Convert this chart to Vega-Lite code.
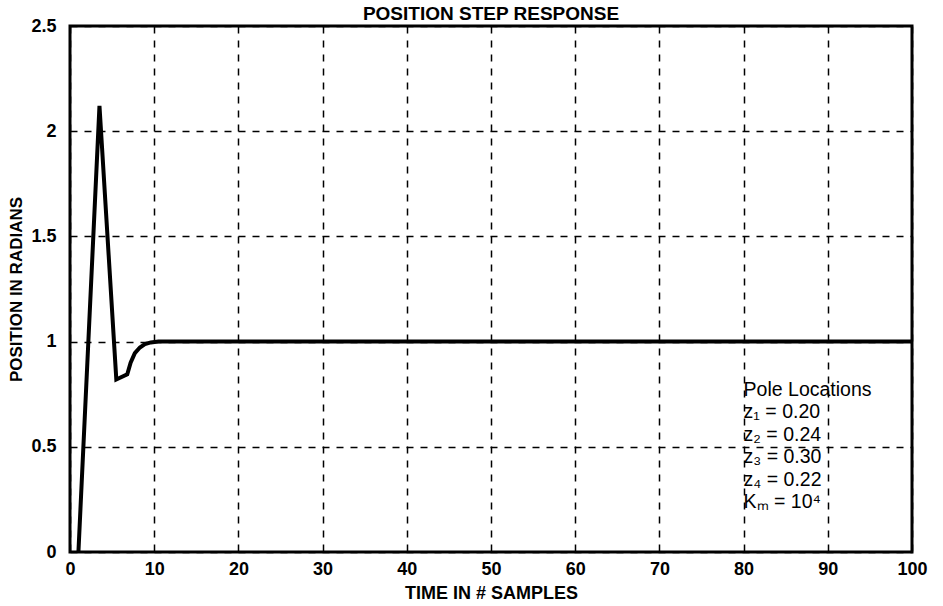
{
  "$schema": "https://vega.github.io/schema/vega-lite/v6.json",
  "width": 842,
  "height": 526,
  "autosize": "none",
  "padding": {"left": 70, "top": 26, "right": 31, "bottom": 54},
  "background": "white",
  "config": {
    "view": {"stroke": "black", "strokeWidth": 3},
    "font": "Liberation Sans"
  },
  "title": {
    "text": "POSITION STEP RESPONSE",
    "fontSize": 19,
    "fontWeight": "bold",
    "font": "Liberation Sans",
    "color": "black",
    "anchor": "middle",
    "offset": -7
  },
  "layer": [
    {
      "data": {
        "values": [
          {"t": 1.0, "pos": 0.0},
          {"t": 3.5, "pos": 2.12},
          {"t": 5.5, "pos": 0.82},
          {"t": 6.8, "pos": 0.845},
          {"t": 7.2, "pos": 0.9},
          {"t": 7.7, "pos": 0.945},
          {"t": 8.3, "pos": 0.972},
          {"t": 8.9, "pos": 0.988},
          {"t": 9.6, "pos": 0.996},
          {"t": 10.5, "pos": 1.0},
          {"t": 20, "pos": 1.0},
          {"t": 50, "pos": 1.0},
          {"t": 100, "pos": 1.0}
        ]
      },
      "mark": {"type": "line", "color": "black", "strokeWidth": 4, "strokeJoin": "miter", "clip": true},
      "encoding": {
        "x": {
          "field": "t",
          "type": "quantitative",
          "scale": {"domain": [0, 100], "nice": false},
          "axis": {
            "title": "TIME IN # SAMPLES",
            "values": [0, 10, 20, 30, 40, 50, 60, 70, 80, 90, 100],
            "grid": true,
            "gridColor": "black",
            "gridDash": [7, 7],
            "gridWidth": 1.5,
            "gridOpacity": 1,
            "ticks": false,
            "domain": false,
            "labelFont": "Liberation Sans",
            "labelFontWeight": "bold",
            "labelFontSize": 18,
            "labelColor": "black",
            "labelPadding": 8,
            "titleFont": "Liberation Sans",
            "titleFontWeight": "bold",
            "titleFontSize": 18,
            "titleColor": "black",
            "titlePadding": 6,
            "labelFlush": false
          }
        },
        "y": {
          "field": "pos",
          "type": "quantitative",
          "scale": {"domain": [0, 2.5], "nice": false},
          "axis": {
            "title": "POSITION IN RADIANS",
            "values": [0, 0.5, 1, 1.5, 2, 2.5],
            "format": "~g",
            "grid": true,
            "gridColor": "black",
            "gridDash": [7, 7],
            "gridWidth": 1.5,
            "gridOpacity": 1,
            "ticks": false,
            "domain": false,
            "labelFont": "Liberation Sans",
            "labelFontWeight": "bold",
            "labelFontSize": 18,
            "labelColor": "black",
            "labelPadding": 14,
            "titleFont": "Liberation Sans",
            "titleFontWeight": "bold",
            "titleFontSize": 17,
            "titleColor": "black",
            "titlePadding": 5,
            "labelFlush": false
          }
        }
      }
    },
    {
      "data": {"values": [{"note": "poles"}]},
      "mark": {
        "type": "text",
        "text": ["Pole Locations", "z₁  = 0.20", "z₂  = 0.24", "z₃  = 0.30", "z₄  = 0.22", "Kₘ = 10⁴"],
        "align": "left",
        "baseline": "alphabetic",
        "font": "Liberation Sans",
        "fontSize": 19.5,
        "lineHeight": 22.4,
        "color": "black"
      },
      "encoding": {
        "x": {"datum": 80},
        "y": {"datum": 0.741}
      }
    }
  ]
}
